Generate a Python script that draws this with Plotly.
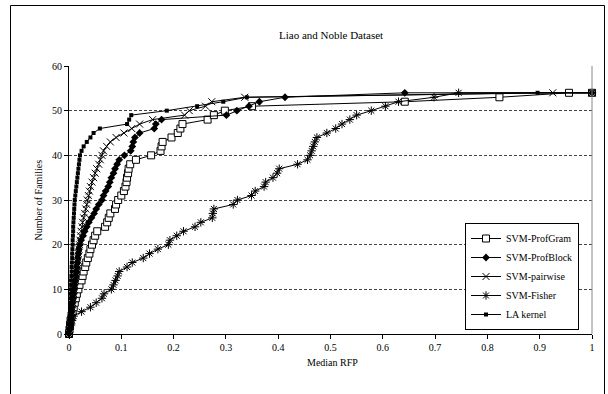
import plotly.graph_objects as go

# ---------------- data ----------------
title_text = "Liao and Noble Dataset"
x_title = "Median RFP"
y_title = "Number of Families"
x_tick_vals = [0, 0.1, 0.2, 0.3, 0.4, 0.5, 0.6, 0.7, 0.8, 0.9, 1.0]
x_tick_text = ["0", "0.1", "0.2", "0.3", "0.4", "0.5", "0.6", "0.7", "0.8", "0.9", "1"]
y_tick_vals = [0, 10, 20, 30, 40, 50, 60]

family_counts = [0, 1, 2, 3, 4, 5, 6, 7, 8, 9, 10, 11, 12, 13, 14, 15, 16, 17, 18, 19,
                 20, 21, 22, 23, 24, 25, 26, 27, 28, 29, 30, 31, 32, 33, 34, 35, 36, 37,
                 38, 39, 40, 41, 42, 43, 44, 45, 46, 47, 48, 49, 50, 51, 52, 53, 54, 54]

profgram_rfp = [0, 0.001, 0.002, 0.003, 0.005, 0.007, 0.009, 0.011, 0.013, 0.015,
                0.018, 0.020, 0.024, 0.026, 0.028, 0.031, 0.033, 0.036, 0.039, 0.041,
                0.044, 0.047, 0.050, 0.054, 0.069, 0.073, 0.076, 0.079, 0.088, 0.090,
                0.094, 0.100, 0.105, 0.108, 0.110, 0.111, 0.113, 0.114, 0.117, 0.128,
                0.157, 0.175, 0.177, 0.179, 0.196, 0.208, 0.213, 0.217, 0.265, 0.277,
                0.298, 0.350, 0.642, 0.823, 0.956, 1.0]

profblock_rfp = [0, 0.001, 0.002, 0.003, 0.004, 0.005, 0.006, 0.007, 0.008, 0.009,
                 0.010, 0.011, 0.012, 0.013, 0.014, 0.015, 0.016, 0.017, 0.018, 0.019,
                 0.021, 0.023, 0.027, 0.030, 0.034, 0.038, 0.043, 0.048, 0.052, 0.057,
                 0.063, 0.066, 0.070, 0.075, 0.078, 0.081, 0.085, 0.088, 0.092, 0.096,
                 0.106, 0.118, 0.121, 0.123, 0.126, 0.135, 0.163, 0.166, 0.177, 0.301,
                 0.321, 0.344, 0.364, 0.413, 0.642, 1.0]

pairwise_rfp = [0, 0.001, 0.002, 0.003, 0.004, 0.005, 0.006, 0.007, 0.008, 0.009,
                0.010, 0.011, 0.012, 0.013, 0.014, 0.015, 0.016, 0.017, 0.018, 0.019,
                0.020, 0.021, 0.022, 0.023, 0.025, 0.026, 0.028, 0.030, 0.032, 0.034,
                0.035, 0.037, 0.039, 0.041, 0.044, 0.047, 0.050, 0.053, 0.057, 0.060,
                0.063, 0.066, 0.072, 0.079, 0.090, 0.105, 0.120, 0.135, 0.160, 0.221,
                0.230, 0.261, 0.273, 0.336, 0.925, 1.0]

fisher_rfp = [0, 0.0015, 0.004, 0.006, 0.009, 0.024, 0.041, 0.052, 0.063, 0.067,
              0.081, 0.085, 0.089, 0.093, 0.096, 0.111, 0.121, 0.142, 0.154, 0.170,
              0.190, 0.193, 0.206, 0.219, 0.241, 0.252, 0.274, 0.275, 0.277, 0.314,
              0.322, 0.349, 0.356, 0.373, 0.376, 0.390, 0.398, 0.402, 0.437, 0.456,
              0.461, 0.464, 0.467, 0.470, 0.474, 0.493, 0.510, 0.522, 0.537, 0.550,
              0.578, 0.605, 0.630, 0.698, 0.745, 1.0]

la_rfp = [0, 0.0005, 0.001, 0.001, 0.0015, 0.002, 0.002, 0.0025, 0.003, 0.003,
          0.0035, 0.004, 0.004, 0.0045, 0.005, 0.005, 0.0055, 0.006, 0.006, 0.0065,
          0.007, 0.007, 0.0075, 0.008, 0.008, 0.0085, 0.009, 0.0095, 0.010, 0.0105,
          0.011, 0.012, 0.013, 0.014, 0.015, 0.016, 0.017, 0.018, 0.019, 0.020,
          0.021, 0.024, 0.028, 0.034, 0.041, 0.047, 0.059, 0.111, 0.115, 0.119,
          0.187, 0.245, 0.295, 0.340, 0.896, 1.0]

series_names = ["SVM-ProfGram", "SVM-ProfBlock", "SVM-pairwise", "SVM-Fisher", "LA kernel"]

# ---------------- figure ----------------
W, H = 608, 394
L, R, T, B = 69, 16, 66, 60
PW, PH = W - L - R, H - T - B

def px_x(p):
    return (p - L) / PW

def px_y(p):
    return (H - B - p) / PH

FONT = "Liberation Serif, Times New Roman, serif"

markers = [
    dict(symbol="square", size=7, color="white", line=dict(color="black", width=1)),
    dict(symbol="diamond", size=6, color="black", line=dict(color="black", width=0)),
    dict(symbol="x-thin-open", size=7, color="black", line=dict(color="black", width=1)),
    dict(symbol="asterisk-open", size=7, color="black", line=dict(color="black", width=1)),
    dict(symbol="square", size=4, color="black", line=dict(color="black", width=0)),
]
xs_all = [profgram_rfp, profblock_rfp, pairwise_rfp, fisher_rfp, la_rfp]

fig = go.Figure()
for name, xs, mk in zip(series_names, xs_all, markers):
    fig.add_trace(go.Scatter(
        x=xs, y=family_counts, name=name, mode="lines+markers",
        line=dict(color="black", width=1), marker=mk, cliponaxis=False,
    ))

fig.update_layout(
    width=W, height=H,
    margin=dict(l=L, r=R, t=T, b=B, pad=0),
    paper_bgcolor="white", plot_bgcolor="white",
    font=dict(family=FONT, size=10, color="black"),
    showlegend=True,
    legend=dict(
        x=px_x(465), y=px_y(223), xanchor="left", yanchor="top",
        bgcolor="white", bordercolor="black", borderwidth=1,
        font=dict(family=FONT, size=10), tracegroupgap=0,
    ),
    xaxis=dict(
        range=[0, 1], tickvals=x_tick_vals, ticktext=x_tick_text,
        showgrid=False, zeroline=False, showline=True, linecolor="black", linewidth=1,
        ticks="outside", ticklen=4, tickcolor="black", tickfont=dict(size=10),
    ),
    yaxis=dict(
        range=[0, 60], tickvals=y_tick_vals,
        showgrid=True, gridcolor="#444444", griddash="3px,2px", gridwidth=1,
        zeroline=False, showline=True, linecolor="black", linewidth=1,
        ticks="outside", ticklen=4, tickcolor="black", tickfont=dict(size=10),
    ),
    shapes=[
        dict(type="line", xref="paper", yref="paper", x0=1, x1=1, y0=0, y1=1,
             line=dict(color="#888888", width=1)),
        dict(type="rect", xref="paper", yref="paper",
             x0=px_x(10.5), x1=px_x(604.5), y0=px_y(405), y1=px_y(5.5),
             line=dict(color="black", width=1), fillcolor="rgba(0,0,0,0)", layer="above"),
    ],
    annotations=[
        dict(text=title_text, xref="paper", yref="paper", x=px_x(331), y=px_y(27),
             showarrow=False, font=dict(size=11)),
        dict(text=x_title, xref="paper", yref="paper", x=px_x(332), y=px_y(370),
             showarrow=False, font=dict(size=10)),
        dict(text=y_title, xref="paper", yref="paper", x=px_x(30), y=px_y(200),
             showarrow=False, textangle=-90, font=dict(size=10)),
    ],
)

fig.write_html("out.html")
